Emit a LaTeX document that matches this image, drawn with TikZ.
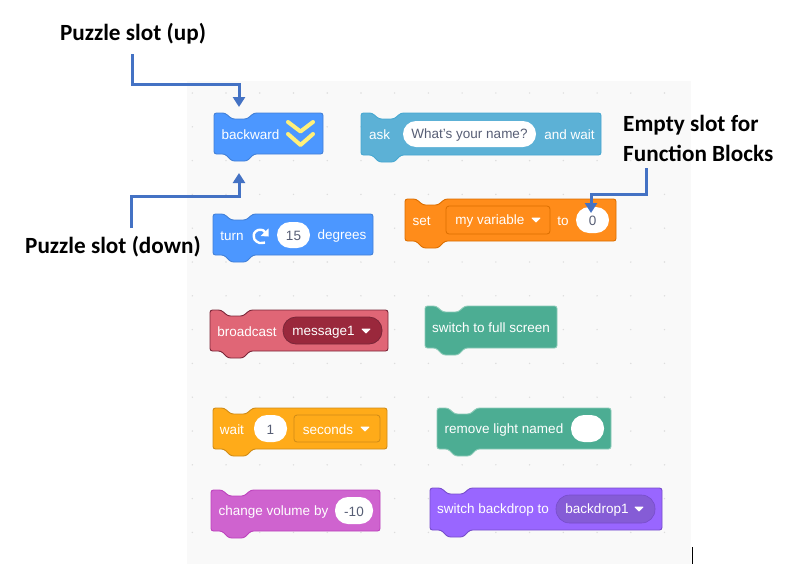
\documentclass[tikz,border=0pt]{standalone}
\usepackage{fontspec}
\setmainfont{Liberation Sans}
\newfontfamily\callout{Carlito}
\usetikzlibrary{arrows.meta}
\definecolor{panelbg}{HTML}{F9F9F9}
\definecolor{griddot}{HTML}{DDDDDD}
\definecolor{pilltext}{HTML}{575E75}
\definecolor{conn}{HTML}{4472C4}
\definecolor{chev}{HTML}{FFF07A}
\definecolor{motionF}{HTML}{4C97FF}\definecolor{motionD}{HTML}{4280D7}
\definecolor{askF}{HTML}{5CB1D6}\definecolor{askD}{HTML}{47A8D1}
\definecolor{varF}{HTML}{FF8C1A}\definecolor{varD}{HTML}{DB6E00}
\definecolor{castF}{HTML}{E06676}\definecolor{castD}{HTML}{7A2638}\definecolor{castP}{HTML}{9A283C}
\definecolor{waitF}{HTML}{FFAB19}\definecolor{waitD}{HTML}{CF8B17}
\definecolor{soundF}{HTML}{CF63CF}\definecolor{soundD}{HTML}{BD42BD}
\definecolor{extF}{HTML}{4CAD93}\definecolor{extD}{HTML}{8CCBB8}
\definecolor{lookF}{HTML}{9966FF}\definecolor{lookD}{HTML}{774DCB}\definecolor{lookP}{HTML}{855CD6}
\tikzset{
  x=1pt,y=-1pt,
  blocktext/.style={text=white,font=\fontsize{13.5}{15}\selectfont,inner sep=0pt,anchor=center,yshift=-0.8pt},
  pilllabel/.style={text=pilltext,font=\fontsize{13.5}{15}\selectfont,inner sep=0pt,anchor=center,yshift=-0.8pt},
  blockshape/.style={line width=0.9pt,rounded corners=2.5pt,line join=round},
  pillshape/.style={rounded corners=13pt,fill=white},
  menushape/.style={rounded corners=3pt,line width=0.8pt},
  menutri/.style={fill=white,draw=white,line width=0.8pt,line join=round},
  callouttext/.style={font=\callout\bfseries\fontsize{23.2}{30}\selectfont,text=black,inner sep=0pt,align=left},
  connector/.style={draw=conn,line width=3pt,-{Triangle[length=10pt,width=12pt]}},
}
% \blk{x1}{y1}{x2}{y2}{fill}{border}
\newcommand\blk[6]{%
  \draw[blockshape,fill=#5,draw=#6]
   (#1,#2) -- (#1+11,#2) -- (#1+18,#2+6) -- (#1+33,#2+6) -- (#1+40,#2) -- (#3,#2)
   -- (#3,#4) -- (#1+40,#4) -- (#1+33,#4+7) -- (#1+18,#4+7) -- (#1+11,#4) -- (#1,#4) -- cycle;}
\newcommand\mtri[2]{\filldraw[menutri] (#1-4,#2-2) -- (#1+4,#2-2) -- (#1,#2+2) -- cycle;}
\begin{document}
\begin{tikzpicture}
\useasboundingbox (0,0) rectangle (800,587);
\fill[white] (0,0) rectangle (800,587);
\fill[panelbg] (187,81) rectangle (691,564);
\foreach \i in {0,...,14} \foreach \j in {0,...,13}
  \fill[griddot] ({192.3+33.73*\i},{93+33.8*\j}) circle (0.8);
\draw[black,line width=1pt] (692.5,547) -- (692.5,564);

% backward
\blk{214}{113}{323}{154}{motionF}{motionD}
\node[blocktext] (tbackward) at (250.5,134) {backward};
\draw[draw=chev,line width=4pt,line cap=round,line join=round]
  (288,122) -- (300.5,131.5) -- (313,122) (288,134) -- (300.5,145) -- (313,134);

% turn
\blk{213}{214}{373}{255}{motionF}{motionD}
\node[blocktext] (tturn) at (232,235) {turn};
\draw[white,line width=2.4pt] plot[smooth] coordinates {(265,242.5) (259.5,243) (254.5,239.5) (254,233.5) (258,230) (263,230.2) (265.5,233)};
\fill[white] (268.5,228.5) -- (268.5,236.5) -- (260.5,236) -- cycle;
\draw[pillshape,draw=none] (277,222) rectangle (310,248);
\node[pilllabel] (tfifteen) at (293.5,235) {15};
\node[blocktext] (tdegrees) at (342,235) {degrees};

% ask
\blk{361}{113}{601}{155}{askF}{askD}
\node[blocktext] (task) at (379.5,134) {ask};
\draw[pillshape,draw=none] (403,121) rectangle (536,147);
\node[pilllabel] (tname) at (469.5,134) {What's your name?};
\node[blocktext] (tandwait) at (569.5,134) {and wait};

% set
\blk{405}{199}{616}{241}{varF}{varD}
\node[blocktext] (tset) at (421.5,220) {set};
\draw[menushape,fill=varF,draw=varD] (446,206) rectangle (550,234);
\node[blocktext] (tvar) at (490,220) {my variable};
\mtri{536}{220}
\node[blocktext] (tto) at (563,220) {to};
\draw[pillshape,draw=none] (576,207) rectangle (609,233);
\node[pilllabel] (tzero) at (592.5,220) {0};

% broadcast
\blk{210}{310}{388}{351}{castF}{castD}
\node[blocktext] (tcast) at (247,331) {broadcast};
\draw[rounded corners=13pt,fill=castP,draw=castD,line width=0.8pt] (283,317) rectangle (382,344);
\node[blocktext] (tmsg) at (323.5,331) {message1};
\mtri{366}{331}

% wait
\blk{213}{408}{387}{449}{waitF}{waitD}
\node[blocktext] (twait) at (232,429) {wait};
\draw[pillshape,draw=none] (254,415) rectangle (287,442);
\node[pilllabel] (tone) at (270.5,429) {1};
\draw[menushape,fill=waitF,draw=waitD] (294,415) rectangle (380,442);
\node[blocktext] (tsec) at (328,429) {seconds};
\mtri{365}{429}

% change volume
\blk{211}{490}{380}{531}{soundF}{soundD}
\node[blocktext] (tvol) at (273.5,511) {change volume by};
\draw[pillshape,draw=none] (335,497) rectangle (373,524);
\node[pilllabel] (tminus) at (354,511) {-10};

% switch to full screen
\blk{425}{306}{557}{348}{extF}{extD}
\node[blocktext] (tfull) at (491,327) {switch to full screen};

% remove light
\blk{437}{408}{611}{449}{extF}{extD}
\node[blocktext] (tlight) at (504,429) {remove light named};
\draw[pillshape,draw=none] (571,415) rectangle (604,442);

% backdrop
\blk{430}{488}{662}{530}{lookF}{lookD}
\node[blocktext] (tback) at (493,509) {switch backdrop to};
\draw[rounded corners=13.5pt,fill=lookP,draw=lookD,line width=0.6pt] (556,495) rectangle (655,523);
\node[blocktext] (tdrop) at (597,509) {backdrop1};
\mtri{639}{509}

% callouts
\node[callouttext] (lblup) at (133,34) {Puzzle slot (up)};
\node[callouttext] (lbldown) at (113,246.5) {Puzzle slot (down)};
\node[callouttext,anchor=west] (lblempty) at (623,138.5) {Empty slot for\\[0pt]Function Blocks};

\coordinate (upstart) at (132,54);
\coordinate (upend) at (239,107);
\coordinate (downstart) at (131,228);
\coordinate (downend) at (239,173);
\coordinate (emptystart) at (646,168);
\coordinate (emptyend) at (591,213);
\draw[connector] (upstart) |- (239,84) -- (upend);
\draw[connector] (downstart) |- (239,196) -- (downend);
\draw[connector] (emptystart) |- (591,194) -- (emptyend);
\end{tikzpicture}
\end{document}
